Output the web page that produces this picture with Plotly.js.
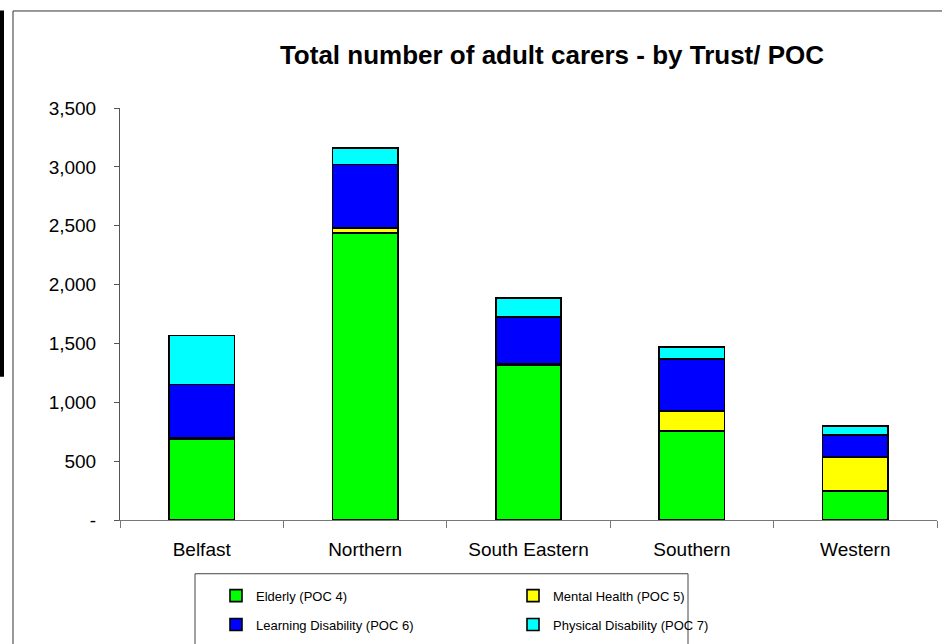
<!DOCTYPE html>
<html>
<head>
<meta charset="utf-8">
<script src="https://cdn.plot.ly/plotly-3.0.1.min.js"></script>
<style>html,body{margin:0;padding:0;background:#fff;}#chart{width:942px;height:644px;}</style>
</head>
<body>
<div id="chart"></div>
<script>
var trusts = ['Belfast', 'Northern', 'South Eastern', 'Southern', 'Western'];
var elderly = [690, 2440, 1315, 755, 245];
var mentalHealth = [12, 40, 8, 172, 290];
var learningDisability = [450, 540, 401, 442, 186];
var physicalDisability = [415, 140, 161, 102, 76];
var yTickVals = [0, 500, 1000, 1500, 2000, 2500, 3000, 3500];
var yTickText = ['-', '500', '1,000', '1,500', '2,000', '2,500', '3,000', '3,500'];

var FONT = 'Liberation Sans, Arial, sans-serif';

function px2x(px) { return (px - 120) / 817; }
function px2y(py) { return (522 - py) / 414; }

function barTrace(name, vals, color, legendId) {
  return {
    type: 'bar', name: name, x: trusts, y: vals,
    marker: {color: color, line: {color: '#000', width: 1.6}},
    width: 0.4, legend: legendId, hoverinfo: 'x+y+name'
  };
}

var data = [
  barTrace('Elderly (POC 4)', elderly, '#00FF00', 'legend'),
  barTrace('Mental Health (POC 5)', mentalHealth, '#FFFF00', 'legend'),
  barTrace('Learning Disability (POC 6)', learningDisability, '#0000FF', 'legend2'),
  barTrace('Physical Disability (POC 7)', physicalDisability, '#00FFFF', 'legend2')
];

var legendCommon = {
  orientation: 'h', xanchor: 'left', yanchor: 'middle',
  x: px2x(216), entrywidth: 252, entrywidthmode: 'pixels',
  font: {family: FONT, size: 13, color: '#000'},
  bgcolor: 'rgba(0,0,0,0)', borderwidth: 0, traceorder: 'normal'
};

var layout = {
  width: 942, height: 644,
  margin: {l: 120, r: 5, t: 108, b: 122, pad: 0},
  paper_bgcolor: '#fff', plot_bgcolor: '#fff',
  barmode: 'stack', showlegend: true,
  font: {family: FONT, color: '#000'},
  title: {
    text: '<b>Total number of adult carers - by Trust/ POC</b>',
    font: {family: FONT, size: 26, color: '#000'},
    xref: 'container', yref: 'container',
    x: 552 / 942, xanchor: 'center', y: 1 - 55 / 644, yanchor: 'middle'
  },
  xaxis: {
    type: 'category', range: [-0.5, 4.5],
    showline: true, linecolor: '#777', linewidth: 1,
    ticks: 'outside', tickson: 'boundaries', ticklen: 7, tickcolor: '#777',
    showgrid: false, zeroline: false,
    tickfont: {family: FONT, size: 19, color: '#000'},
    ticklabelstandoff: 12, fixedrange: true
  },
  yaxis: {
    range: [0, 3500], tickmode: 'array', tickvals: yTickVals, ticktext: yTickText,
    showline: true, linecolor: '#555', linewidth: 1,
    ticks: 'outside', ticklen: 5, tickcolor: '#555',
    showgrid: false, zeroline: false,
    tickfont: {family: FONT, size: 19, color: '#000'},
    ticklabelstandoff: 14, fixedrange: true
  },
  legend: Object.assign({}, legendCommon, {y: px2y(598)}),
  legend2: Object.assign({}, legendCommon, {y: px2y(627)}),
  shapes: [
    {type: 'rect', xref: 'paper', yref: 'paper', layer: 'below',
     x0: px2x(13), x1: px2x(948), y0: px2y(660), y1: px2y(10.5),
     line: {color: '#333', width: 1}, fillcolor: 'rgba(0,0,0,0)'},
    {type: 'rect', xref: 'paper', yref: 'paper',
     x0: px2x(0), x1: px2x(4), y0: px2y(378), y1: px2y(10),
     line: {width: 0}, fillcolor: '#000'},
    {type: 'rect', xref: 'paper', yref: 'paper',
     x0: px2x(195), x1: px2x(688), y0: px2y(660), y1: px2y(576),
     line: {color: '#444', width: 1}, fillcolor: 'rgba(0,0,0,0)'}
  ]
};

Plotly.newPlot('chart', data, layout, {displayModeBar: false, staticPlot: true});
</script>
</body>
</html>
